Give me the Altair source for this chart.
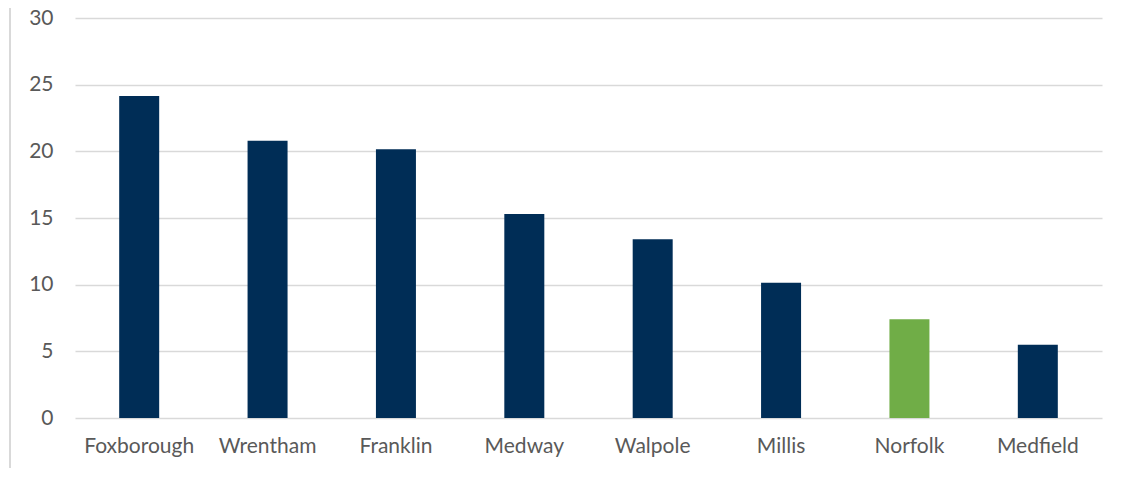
import altair as alt
import pandas as pd

towns = ["Foxborough", "Wrentham", "Franklin", "Medway", "Walpole", "Millis", "Norfolk", "Medfield"]
values = [24.15, 20.8, 20.15, 15.3, 13.4, 10.15, 7.4, 5.5]
colors = ["#002D56", "#002D56", "#002D56", "#002D56", "#002D56", "#002D56", "#70AD47", "#002D56"]

df = pd.DataFrame({"town": towns, "value": values, "color": colors})

FONT = "Lato"

bars = alt.Chart(df).mark_bar(size=40).encode(
    x=alt.X("town:N", sort=towns, title=None,
            axis=alt.Axis(labelAngle=0, labelFontSize=21, labelColor="#595959", labelFont=FONT,
                          ticks=False, domain=False, labelPadding=17)),
    y=alt.Y("value:Q", title=None, scale=alt.Scale(domain=[0, 30], nice=False),
            axis=alt.Axis(values=[0, 5, 10, 15, 20, 25, 30], labelFontSize=21, labelColor="#595959",
                          labelFont=FONT, ticks=False, domain=False, labelPadding=22,
                          gridColor="#D9D9D9", gridWidth=1.3)),
    color=alt.Color("color:N", scale=None),
)

border = alt.Chart(df).mark_rule(color="#D9D9D9", strokeWidth=1.5).encode(
    x=alt.value(-65), y=alt.value(-18), y2=alt.value(460)
)

chart = alt.layer(border, bars).properties(
    width=1027, height=400, autosize=alt.AutoSizeParams(type="none"),
    padding={"left": 67, "top": 10, "right": 10, "bottom": 50},
).configure_view(stroke=None)

chart.save("out.html", embed_options={"renderer": "svg", "actions": False})
